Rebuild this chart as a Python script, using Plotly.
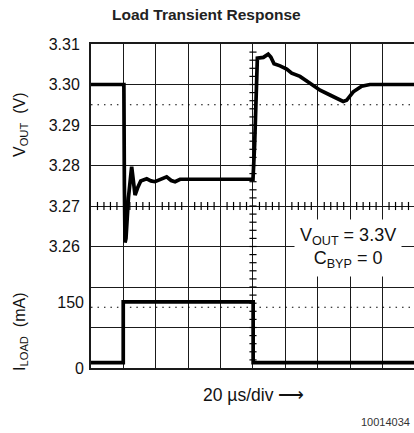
import plotly.graph_objects as go

# ---- data ----
t_vout = [0, 20.3, 20.6, 21.0, 21.6, 23.1, 25.1, 26.2, 27.2, 28.8, 30.7, 34.4, 37.0,
          39.5, 43.0, 46.7, 49.5, 51.9, 55.0, 100.0, 101.0, 102.0, 102.7, 106.4,
          109.4, 111.0, 113.0, 116.7, 120.8, 123.9, 129.0, 135.2, 141.4, 147.5,
          155.7, 157.8, 159.5, 161.9, 167.1, 172.2, 200.0]
v_out = [3.3000, 3.3000, 3.2750, 3.2610, 3.2620, 3.2720, 3.2797, 3.2765, 3.2727, 3.2745,
         3.2762, 3.2767, 3.2762, 3.2760, 3.2766, 3.2772, 3.2763, 3.2760, 3.2766, 3.2766,
         3.2850, 3.3000, 3.3065, 3.3067, 3.3075, 3.3068, 3.3051, 3.3046, 3.3038, 3.3028,
         3.3020, 3.3003, 3.2986, 3.2974, 3.2958, 3.2961, 3.2970, 3.2982, 3.2996, 3.3000,
         3.3000]

t_load = [0, 19.9, 19.9, 100.1, 100.1, 200.0]
i_load = [12, 12, 150, 150, 12, 12]

vout_ticks = [3.23, 3.24, 3.25, 3.26, 3.27, 3.28, 3.29, 3.30, 3.31]
vout_labels = ["", "", "", "3.26", "3.27", "3.28", "3.29", "3.30", "3.31"]
iload_ticks = [0, 150]
iload_labels = ["0", "150"]
time_grid = [0, 20, 40, 60, 80, 100, 120, 140, 160, 180, 200]

FONT = "Liberation Sans, Arial, sans-serif"

fig = go.Figure()
fig.add_trace(go.Scatter(x=t_vout, y=v_out, mode="lines", yaxis="y",
                         line=dict(color="black", width=3.7), showlegend=False,
                         hoverinfo="skip"))
fig.add_trace(go.Scatter(x=t_load, y=i_load, mode="lines", yaxis="y2",
                         line=dict(color="black", width=3.7), showlegend=False,
                         hoverinfo="skip"))

shapes = []
# dotted reference lines
for yv in (3.295, 3.245):
    shapes.append(dict(type="line", xref="x", yref="y", x0=0, x1=200, y0=yv, y1=yv,
                       layer="between",
                       line=dict(color="black", width=1.2, dash="1.5px,4.98px")))
# centre crosshair minor ticks
for k in range(1, 50):
    tt = 4 * k
    if tt % 20 == 0:
        continue
    shapes.append(dict(type="line", xref="x", yref="y", x0=tt, x1=tt,
                       y0=3.269, y1=3.271, layer="between",
                       line=dict(color="black", width=1.2)))
for k in range(1, 40):
    vv = 3.23 + 0.002 * k
    shapes.append(dict(type="line", xref="x", yref="y", x0=97.8, x1=102.2,
                       y0=vv, y1=vv, layer="between",
                       line=dict(color="black", width=1.2)))
fig.update_layout(shapes=shapes)

tickfont = dict(family=FONT, size=16, color="#111")
fig.update_layout(
    width=414, height=433,
    margin=dict(l=91, r=0, t=44, b=65, autoexpand=False),
    paper_bgcolor="white", plot_bgcolor="white",
    xaxis=dict(range=[0, 199.4], tickvals=time_grid, showticklabels=False,
               showgrid=True, gridcolor="#1a1a1a", gridwidth=1.4, zeroline=False,
               showline=True, linecolor="#1a1a1a", linewidth=2, mirror=True,
               ticks="", fixedrange=True),
    yaxis=dict(range=[3.23, 3.31], tickvals=vout_ticks, ticktext=vout_labels,
               showgrid=True, gridcolor="#1a1a1a", gridwidth=1.4, zeroline=False,
               showline=True, linecolor="#1a1a1a", linewidth=2, mirror=False,
               ticks="", tickfont=tickfont, ticklabelstandoff=6, fixedrange=True),
    yaxis2=dict(range=[0, 736], tickvals=iload_ticks, ticktext=iload_labels,
                overlaying="y", side="left", showgrid=False, zeroline=False,
                showline=False, ticks="", tickfont=tickfont, ticklabelstandoff=6,
                fixedrange=True),
)

def px(xp):
    return (xp - 91) / 323.0

def py(yp):
    return (368 - yp) / 324.0

ann = [
    dict(text="<b>Load Transient Response</b>", x=px(206), y=py(14),
         font=dict(family=FONT, size=15.5, color="#222")),
    dict(text="20 µs/div ⟶", x=px(253), y=py(395),
         font=dict(family=FONT, size=17.5, color="#111")),
    dict(text="10014034", x=px(412), y=py(422), xanchor="right",
         font=dict(family=FONT, size=11, color="#333")),
    dict(text="V<sub>OUT</sub>  (V)", x=px(20), y=py(125), textangle=-90,
         font=dict(family=FONT, size=16, color="#111")),
    dict(text="I<sub>LOAD</sub>  (mA)", x=px(20), y=py(332), textangle=-90,
         font=dict(family=FONT, size=16, color="#111")),
    dict(text="V<sub>OUT</sub> = 3.3V<br>C<sub>BYP</sub> = 0", x=px(348), y=py(248),
         bgcolor="white", borderpad=5,
         font=dict(family=FONT, size=18, color="#111")),
]
for a in ann:
    a.setdefault("xanchor", "center")
    a.update(xref="paper", yref="paper", yanchor="middle", showarrow=False)
fig.update_layout(annotations=ann)

fig.write_html("out.html", post_script="document.body.style.margin='0';",
               config={"displayModeBar": False})
